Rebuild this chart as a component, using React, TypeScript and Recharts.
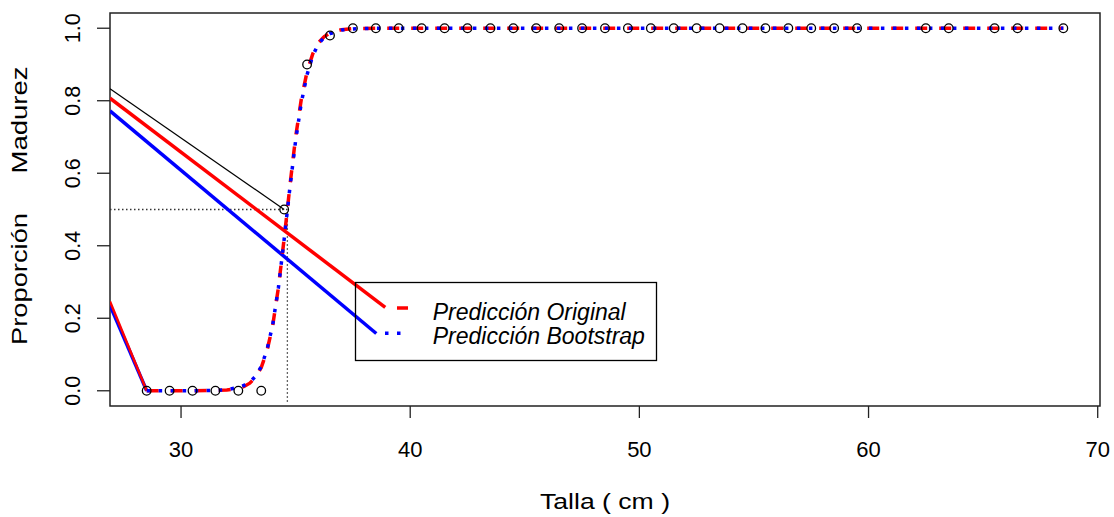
import React from "react";
import { ComposedChart, Line, Scatter, XAxis, YAxis, ReferenceArea } from "recharts";

// ---------- data ----------
const xTicks = [30, 40, 50, 60, 70];
const yTicks = [0, 0.2, 0.4, 0.6, 0.8, 1.0];
const yTickLabels = ["0.0", "0.2", "0.4", "0.6", "0.8", "1.0"];

const obsTalla = [28.5, 29.5, 30.5, 31.5, 32.5, 33.5, 34.5, 35.5, 36.5, 37.5, 38.5, 39.5, 40.5, 41.5, 42.5, 43.5, 44.5, 45.5, 46.5, 47.5, 48.5, 49.5, 50.5, 51.5, 52.5, 53.5, 54.5, 55.5, 56.5, 57.5, 58.5, 59.5, 62.5, 63.5, 65.5, 66.5, 68.5];
const obsProp = [0, 0, 0, 0, 0, 0, 0.5, 0.9, 0.98, 1, 1, 1, 1, 1, 1, 1, 1, 1, 1, 1, 1, 1, 1, 1, 1, 1, 1, 1, 1, 1, 1, 1, 1, 1, 1, 1, 1];

const curveTalla = [28.5, 29.5, 30.5, 31.5, 32, 32.5, 32.75, 33, 33.25, 33.5, 33.75, 34, 34.25, 34.5, 34.64, 34.75, 35, 35.25, 35.5, 35.75, 36, 36.25, 36.5, 37, 37.5, 38.5, 40.5, 45.5, 50.5, 55.5, 60.5, 65.5, 68.5];
const predOriginal = [0, 0, 0, 0.001, 0.002, 0.007, 0.012, 0.021, 0.037, 0.064, 0.11, 0.18, 0.285, 0.42, 0.5, 0.565, 0.7, 0.805, 0.88, 0.93, 0.96, 0.977, 0.987, 0.996, 0.999, 1, 1, 1, 1, 1, 1, 1, 1];
const predBootstrap = [0, 0, 0, 0.001, 0.003, 0.009, 0.015, 0.024, 0.04, 0.067, 0.113, 0.182, 0.285, 0.418, 0.497, 0.56, 0.69, 0.795, 0.872, 0.925, 0.957, 0.975, 0.985, 0.995, 0.998, 1, 1, 1, 1, 1, 1, 1, 1];

// stray straight segments seen in the picture
const blackSegX = [26.9, 34.5];
const blackSegY = [0.833, 0.5];
const redSegX = [26.9, 38.91];
const redSegY = [0.807, 0.23];
const blueSegX = [26.9, 38.52];
const blueSegY = [0.772, 0.158];
const redLowX = [26.9, 28.5];
const redLowY = [0.246, 0];
const blueLowX = [26.9, 28.5];
const blueLowY = [0.236, 0];

// L50 reference
const l50 = 34.64;
const hRefX = [26.9, l50];
const hRefY = [0.5, 0.5];
const vRefX = [l50, l50];
const vRefY = [-0.03, 0.5];

const xDomain = [26.9, 70.1];
const yDomain = [-0.042, 1.042];

const pts = (xs: number[], ys: number[]) => xs.map((x, i) => ({ x, y: ys[i] }));

const FONT = "'Liberation Sans', Arial, Helvetica, sans-serif";

const XTick = (props: any) => {
  const { x, y, payload } = props;
  return (
    <text x={x} y={y + 39} textAnchor="middle" fontFamily={FONT} fontSize={22} fill="#000">
      {payload.value}
    </text>
  );
};

const YTick = (props: any) => {
  const { x, y, payload } = props;
  const idx = yTicks.indexOf(payload.value);
  const label = idx >= 0 ? yTickLabels[idx] : String(payload.value);
  const bx = x - 17;
  return (
    <text x={bx} y={y} transform={`rotate(-90, ${bx}, ${y})`} textAnchor="middle" fontFamily={FONT} fontSize={21.5} fill="#000">
      {label}
    </text>
  );
};

const OpenCircle = (props: any) => {
  const { cx, cy } = props;
  return <circle cx={cx} cy={cy} r={4.3} fill="none" stroke="#000" strokeWidth={1.3} />;
};

export default function App() {
  const W = 1114;
  const H = 517;
  return (
    <div style={{ position: "absolute", left: 0, top: 0, width: W, height: H, overflow: "hidden", background: "#fff" }}>
      <ComposedChart width={W} height={H} margin={{ top: 13, right: 14, bottom: 51, left: 0 }}>
        <XAxis
          type="number"
          dataKey="x"
          domain={xDomain}
          ticks={xTicks}
          allowDataOverflow
          interval={0}
          height={60}
          tickSize={12}
          tickMargin={0}
          axisLine={false}
          tickLine={{ stroke: "#222", strokeWidth: 1.3 }}
          tick={<XTick />}
        />
        <YAxis
          type="number"
          dataKey="y"
          domain={yDomain}
          ticks={yTicks}
          allowDataOverflow
          interval={0}
          width={110}
          tickSize={13}
          tickMargin={0}
          axisLine={false}
          tickLine={{ stroke: "#222", strokeWidth: 1.3 }}
          tick={<YTick />}
        />
        <ReferenceArea x1={xDomain[0]} x2={xDomain[1]} y1={yDomain[0]} y2={yDomain[1]} fill="none" fillOpacity={0} stroke="#222" strokeWidth={1.5} ifOverflow="visible" />

        <Line data={pts(hRefX, hRefY)} dataKey="y" stroke="#333" strokeWidth={1.3} strokeDasharray="1.5 2.5" dot={false} activeDot={false} isAnimationActive={false} />
        <Line data={pts(vRefX, vRefY)} dataKey="y" stroke="#333" strokeWidth={1.3} strokeDasharray="1.5 2.5" dot={false} activeDot={false} isAnimationActive={false} />

        <Line data={pts(blackSegX, blackSegY)} dataKey="y" stroke="#000" strokeWidth={1.2} dot={false} activeDot={false} isAnimationActive={false} />
        <Line data={pts(redSegX, redSegY)} dataKey="y" stroke="#ff0000" strokeWidth={3.5} dot={false} activeDot={false} isAnimationActive={false} />
        <Line data={pts(blueSegX, blueSegY)} dataKey="y" stroke="#0000ff" strokeWidth={3.5} dot={false} activeDot={false} isAnimationActive={false} />
        <Line data={pts(blueLowX, blueLowY)} dataKey="y" stroke="#0000ff" strokeWidth={3.5} dot={false} activeDot={false} isAnimationActive={false} />
        <Line data={pts(redLowX, redLowY)} dataKey="y" stroke="#ff0000" strokeWidth={2.5} dot={false} activeDot={false} isAnimationActive={false} />

        <Scatter data={pts(obsTalla, obsProp)} dataKey="y" shape={<OpenCircle />} isAnimationActive={false} />

        <Line data={pts(curveTalla, predOriginal)} dataKey="y" type="linear" stroke="#ff0000" strokeWidth={3.5} strokeDasharray="12 12" dot={false} activeDot={false} isAnimationActive={false} />
        <Line data={pts(curveTalla, predBootstrap)} dataKey="y" type="linear" stroke="#0000ff" strokeWidth={3.5} strokeDasharray="3.5 8.5" dot={false} activeDot={false} isAnimationActive={false} />
      </ComposedChart>

      <svg width={W} height={H} style={{ position: "absolute", left: 0, top: 0, pointerEvents: "none" }}>
        {/* y label */}
        <text x={27} y={279} transform="rotate(-90, 27, 279)" textAnchor="middle" fontFamily={FONT} fontSize={22} textLength={132} lengthAdjust="spacingAndGlyphs" fill="#000">
          Proporción
        </text>
        <text x={27} y={120} transform="rotate(-90, 27, 120)" textAnchor="middle" fontFamily={FONT} fontSize={22} textLength={107} lengthAdjust="spacingAndGlyphs" fill="#000">
          Madurez
        </text>
        {/* x label */}
        <text x={605} y={509} textAnchor="middle" fontFamily={FONT} fontSize={22} textLength={130} lengthAdjust="spacingAndGlyphs" fill="#000">
          Talla ( cm )
        </text>
        {/* legend */}
        <rect x={355.5} y={282.5} width={301} height={78} fill="none" stroke="#000" strokeWidth={1.3} />
        <line x1={397} y1={308} x2={408} y2={308} stroke="#ff0000" strokeWidth={3.5} />
        <line x1={385} y1={333.3} x2={401} y2={333.3} stroke="#0000ff" strokeWidth={3.5} strokeDasharray="3.5 8.5" />
        <text x={432.7} y={320} fontFamily={FONT} fontStyle="italic" fontSize={23} fill="#000">
          Predicción Original
        </text>
        <text x={432.7} y={344} fontFamily={FONT} fontStyle="italic" fontSize={23} fill="#000">
          Predicción Bootstrap
        </text>
      </svg>
    </div>
  );
}
